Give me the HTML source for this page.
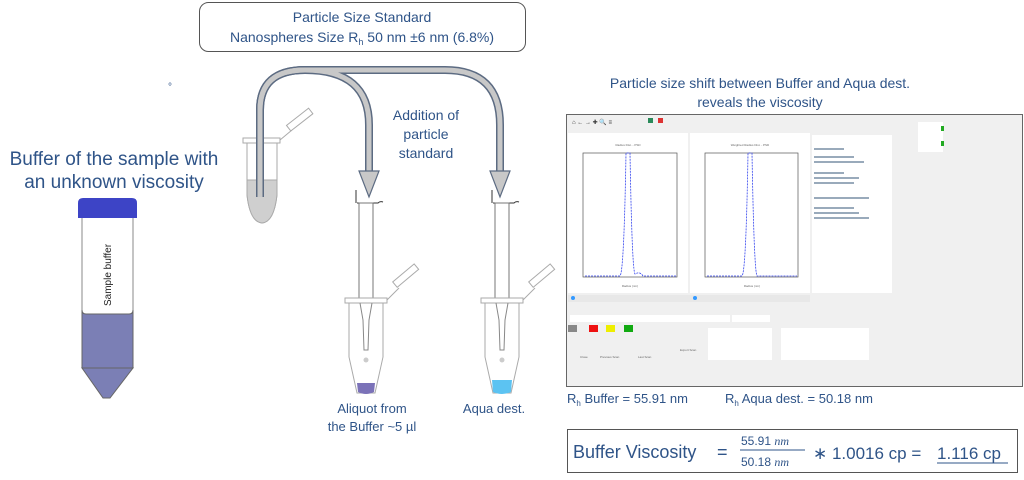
<!DOCTYPE html>
<html><head><meta charset="utf-8"><style>
html,body{margin:0;padding:0;background:#fff;width:1024px;height:480px;overflow:hidden}
svg{position:absolute;left:0;top:0}
text{font-family:"Liberation Sans",sans-serif;fill:#2f5488}
.s{fill:#666;font-size:3px}
</style></head><body>
<svg width="1024" height="480" viewBox="0 0 1024 480">
<rect x="199.5" y="2.5" width="326" height="49" rx="9" fill="#fff" stroke="#555" stroke-width="1"/>
<text x="362" y="22" font-size="14" text-anchor="middle">Particle Size Standard</text>
<text x="362" y="42" font-size="14" text-anchor="middle">Nanospheres Size R<tspan font-size="9" dy="3">h</tspan><tspan dy="-3"> 50 nm ±6 nm (6.8%)</tspan></text>
<text x="168" y="90" font-size="10">°</text>

<text x="114" y="165" font-size="19" text-anchor="middle">Buffer of the sample with</text>
<text x="114" y="188" font-size="19" text-anchor="middle">an unknown viscosity</text>
<rect x="82" y="210" width="51" height="158" fill="#fff" stroke="#888"/>
<path d="M82 310 Q82 314 86 314 L129 314 Q133 314 133 310 L133 368 L82 368Z" fill="#7b7fb5" stroke="#666"/>
<path d="M82 368 L133 368 L110 398 L103 398Z" fill="#7b7fb5" stroke="#666"/>
<path d="M78 218 L78 203 Q78 198 83 198 L132 198 Q137 198 137 203 L137 218Z" fill="#3d44c6"/>
<text transform="translate(111,275) rotate(-90)" font-size="10" text-anchor="middle" style="fill:#222">Sample buffer</text>

<g stroke="#aaa" stroke-width="1">
<rect x="243" y="138" width="37" height="5" fill="#fff"/>
<path d="M247 143 L247 195 Q250 222 262 223 Q274 222 277 195 L277 143Z" fill="#fff"/>
<path d="M247 180 L277 180 L277 195 Q274 222 262 223 Q250 222 247 195Z" fill="#cfcfcf"/>
<path d="M280 140 L292 130" fill="none"/>
<rect x="286" y="116" width="28" height="7" transform="rotate(-38 300 120)" fill="#fff"/>
</g>

<g fill="none" stroke-linecap="butt">
<path d="M260 197 L260 110 Q260 70 305 70 L445 70 Q500 70 500 125 L500 172" stroke="#5c6b82" stroke-width="8"/>
<path d="M260 110 Q260 70 305 70 Q369 70 369 125 L369 172" stroke="#5c6b82" stroke-width="8"/>
<path d="M260 197 L260 110 Q260 70 305 70 L445 70 Q500 70 500 125 L500 173" stroke="#c8c8c8" stroke-width="5"/>
<path d="M260 110 Q260 70 305 70 Q369 70 369 125 L369 173" stroke="#c8c8c8" stroke-width="5"/>
</g>
<path d="M359 171 L379 171 L369 197Z" fill="#c8c8c8" stroke="#5c6b82" stroke-width="1.2"/>
<path d="M490 171 L510 171 L500 197Z" fill="#c8c8c8" stroke="#5c6b82" stroke-width="1.2"/>
<text x="426" y="120" font-size="14" text-anchor="middle">Addition of</text>
<text x="426" y="139" font-size="14" text-anchor="middle">particle</text>
<text x="426" y="158" font-size="14" text-anchor="middle">standard</text>

<g stroke="#777" stroke-width="1" fill="#fff">
<path d="M356 190 L356 203 M357 203 L378 203 Q380 201 383 202" fill="none" stroke="#333"/>
<rect x="359" y="203" width="14" height="97"/>
<rect x="345" y="298" width="42" height="5" stroke="#aaa"/>
<path d="M349 303 L349 357 L357 393 L375 393 L383 357 L383 303Z" stroke="#aaa"/>
<path d="M360 303 L363 320 L364 350 L368 350 L369 320 L372 303" fill="none" stroke="#888"/>
<path d="M387 300 L399 288" fill="none" stroke="#aaa"/>
<rect x="392" y="272" width="28" height="7" transform="rotate(-40 406 276)" stroke="#aaa"/>
</g>
<circle cx="366" cy="360" r="2.5" fill="#ccc"/>
<path d="M357 383 L375 383 L374 392 Q366 396 358 392Z" fill="#7b72b8"/>
<g transform="translate(136,0)">
<g stroke="#777" stroke-width="1" fill="#fff">
<path d="M356 190 L356 203 M357 203 L378 203 Q380 201 383 202" fill="none" stroke="#333"/>
<rect x="359" y="203" width="14" height="97"/>
<rect x="345" y="298" width="42" height="5" stroke="#aaa"/>
<path d="M349 303 L349 357 L357 393 L375 393 L383 357 L383 303Z" stroke="#aaa"/>
<path d="M360 303 L363 320 L364 350 L368 350 L369 320 L372 303" fill="none" stroke="#888"/>
<path d="M387 300 L399 288" fill="none" stroke="#aaa"/>
<rect x="392" y="272" width="28" height="7" transform="rotate(-40 406 276)" stroke="#aaa"/>
</g>
<circle cx="366" cy="360" r="2.5" fill="#ccc"/>
<path d="M356 380 L376 380 L375 392 Q366 396 357 392Z" fill="#5cc3f2"/>
</g>
<text x="372" y="413" font-size="13" text-anchor="middle">Aliquot from</text>
<text x="372" y="431" font-size="13" text-anchor="middle">the Buffer ~5 µl</text>
<text x="494" y="413" font-size="13" text-anchor="middle">Aqua dest.</text>

<text x="760" y="88" font-size="14" text-anchor="middle">Particle size shift between Buffer and Aqua dest.</text>
<text x="760" y="107" font-size="14" text-anchor="middle">reveals the viscosity</text>

<rect x="566.5" y="114.5" width="456" height="272" fill="#f0f0f0" stroke="#666" stroke-width="1"/>
<g fill="#333" font-size="6"><text x="572" y="124" style="fill:#333">⌂ ← → ✚ 🔍 ≡</text></g>
<rect x="648" y="118" width="5" height="5" fill="#2a8a5a"/><rect x="658" y="118" width="5" height="5" fill="#d33"/>
<rect x="568" y="133" width="120" height="160" fill="#fff"/>
<rect x="690" y="133" width="120" height="160" fill="#fff"/>
<rect x="812" y="135" width="80" height="158" fill="#fff"/>
<rect x="583" y="153" width="94" height="124" fill="#fff" stroke="#555" stroke-width="0.7"/>
<rect x="705" y="153" width="93" height="124" fill="#fff" stroke="#555" stroke-width="0.7"/>
<path d="M585 276 L620 276 Q624 272 626 153 L630 153 Q632 270 635 274 Q640 271 643 276 L676 276" fill="none" stroke="#3344ee" stroke-width="0.8" stroke-dasharray="2,1"/>
<path d="M707 276 L742 276 Q746 272 748 153 L752 153 Q754 270 757 276 L797 276" fill="none" stroke="#3344ee" stroke-width="0.8" stroke-dasharray="2,1"/>
<text x="628" y="146" class="s" text-anchor="middle" font-size="4">Radius Dist. - PSD</text>
<text x="750" y="146" class="s" text-anchor="middle" font-size="4">Weighted Radius Dist. - PSD</text>
<text x="630" y="287" class="s" text-anchor="middle" font-size="3.5">Radius (nm)</text>
<text x="752" y="287" class="s" text-anchor="middle" font-size="3.5">Radius (nm)</text>
<g fill="#9ab">
<rect x="814" y="148" width="30" height="2"/><rect x="814" y="156" width="40" height="2"/><rect x="814" y="161" width="50" height="2"/>
<rect x="814" y="172" width="30" height="2"/><rect x="814" y="177" width="45" height="2"/><rect x="814" y="182" width="40" height="2"/>
<rect x="814" y="197" width="55" height="2"/><rect x="814" y="207" width="40" height="2"/><rect x="814" y="212" width="45" height="2"/><rect x="814" y="217" width="55" height="2"/>
</g>
<rect x="918" y="122" width="25" height="30" fill="#fff"/>
<rect x="941" y="126" width="3" height="5" fill="#2a2"/><rect x="941" y="141" width="3" height="5" fill="#2a2"/>
<rect x="568" y="295" width="242" height="7" fill="#e8e8e8"/>
<circle cx="573" cy="298" r="2" fill="#39f"/><circle cx="695" cy="298" r="2" fill="#39f"/>
<rect x="570" y="315" width="160" height="7" fill="#fff"/>
<rect x="732" y="315" width="38" height="7" fill="#fff"/>
<rect x="568" y="325" width="9" height="7" fill="#888"/>
<rect x="589" y="325" width="9" height="7" fill="#e11"/>
<rect x="606" y="325" width="9" height="7" fill="#ee0"/>
<rect x="624" y="325" width="9" height="7" fill="#1a1"/>
<rect x="708" y="328" width="64" height="32" fill="#fff"/>
<rect x="781" y="328" width="88" height="32" fill="#fff"/>
<g class="s" font-size="4"><text x="580" y="358" class="s">Close</text><text x="600" y="358" class="s">Previous Scan</text><text x="638" y="358" class="s">Last Scan</text><text x="680" y="351" class="s">Export Scan</text></g>

<text x="567" y="403" font-size="13">R<tspan font-size="8" dy="3">h</tspan><tspan dy="-3"> Buffer = 55.91 nm</tspan></text>
<text x="725" y="403" font-size="13">R<tspan font-size="8" dy="3">h</tspan><tspan dy="-3"> Aqua dest. = 50.18 nm</tspan></text>

<rect x="567.5" y="429.5" width="450" height="43" fill="#fff" stroke="#555" stroke-width="1"/>
<text x="573" y="458" font-size="18">Buffer Viscosity</text>
<text x="717" y="458" font-size="18">=</text>
<text x="765" y="445" font-size="12" text-anchor="middle">55.91 <tspan font-style="italic" font-family="Liberation Serif">nm</tspan></text>
<line x1="740" y1="450" x2="805" y2="450" stroke="#2f5488" stroke-width="1"/>
<text x="765" y="466" font-size="12" text-anchor="middle">50.18 <tspan font-style="italic" font-family="Liberation Serif">nm</tspan></text>
<text x="813" y="459" font-size="17">∗ 1.0016 cp = </text>
<text x="937" y="459" font-size="17">1.116 cp</text>
<line x1="937" y1="463" x2="1008" y2="463" stroke="#2f5488" stroke-width="1"/>
</svg>
</body></html>
